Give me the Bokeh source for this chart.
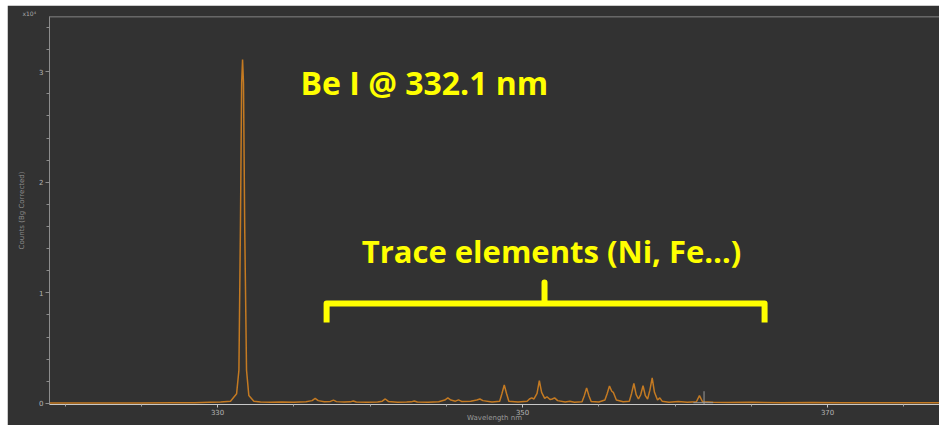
from bokeh.plotting import figure
from bokeh.models import FixedTicker, Label, Span, Range1d, Spacer, Title
from bokeh.layouts import column, row
from bokeh.embed import file_html
from bokeh.resources import INLINE

# ---- data (wavelength in nm, counts in units of 1e4, background corrected) ----
wavelength_nm = [319.0, 322.0, 325.0, 327.0, 328.5, 329.5, 330.2, 330.85, 331.25, 331.40,
                 331.50, 331.58, 331.64, 331.70, 331.78, 331.90, 332.05, 332.38, 332.82, 333.5,
                 334.2, 335.0, 335.8, 336.2, 336.4, 336.6, 337.0, 337.4, 337.6, 337.8,
                 338.3, 338.7, 338.9, 339.1, 339.8, 340.5, 340.8, 341.0, 341.2, 341.8,
                 342.4, 342.7, 342.9, 343.1, 343.8, 344.5, 344.9, 345.1, 345.3, 345.6,
                 345.8, 346.0, 346.6, 347.0, 347.2, 347.4, 348.0, 348.5, 348.65, 348.8,
                 348.95, 349.1, 349.7, 350.3, 350.45, 350.6, 350.75, 350.95, 351.1, 351.25,
                 351.45, 351.6, 351.8, 351.95, 352.1, 352.3, 352.8, 353.1, 353.4, 353.9,
                 354.05, 354.2, 354.35, 354.5, 355.0, 355.4, 355.55, 355.7, 355.85, 355.95,
                 356.15, 356.6, 357.0, 357.15, 357.3, 357.45, 357.6, 357.75, 357.9, 358.05,
                 358.2, 358.35, 358.5, 358.65, 358.85, 359.0, 359.15, 359.6, 360.2, 360.8,
                 361.4, 361.6, 361.8, 362.5, 363.5, 365.0, 367.0, 369.0, 371.0, 373.0,
                 375.0, 377.4]
counts_e4 = [0.003, 0.003, 0.004, 0.005, 0.006, 0.010, 0.012, 0.020, 0.088, 0.30,
             1.6, 2.9, 3.11, 2.9, 1.6, 0.30, 0.072, 0.020, 0.012, 0.010,
             0.012, 0.010, 0.015, 0.025, 0.045, 0.025, 0.015, 0.018, 0.030, 0.016,
             0.012, 0.014, 0.022, 0.012, 0.010, 0.012, 0.020, 0.040, 0.018, 0.010,
             0.012, 0.014, 0.022, 0.012, 0.010, 0.015, 0.030, 0.050, 0.030, 0.020,
             0.032, 0.018, 0.020, 0.030, 0.040, 0.025, 0.012, 0.020, 0.090, 0.166,
             0.090, 0.020, 0.012, 0.020, 0.040, 0.050, 0.040, 0.090, 0.205, 0.100,
             0.045, 0.060, 0.035, 0.040, 0.050, 0.025, 0.012, 0.020, 0.010, 0.015,
             0.070, 0.140, 0.070, 0.018, 0.012, 0.030, 0.090, 0.157, 0.110, 0.100,
             0.030, 0.015, 0.020, 0.090, 0.180, 0.080, 0.040, 0.080, 0.160, 0.070,
             0.040, 0.120, 0.230, 0.100, 0.030, 0.050, 0.020, 0.010, 0.018, 0.010,
             0.015, 0.070, 0.015, 0.010, 0.008, 0.010, 0.006, 0.008, 0.005, 0.006,
             0.005, 0.005]

x_major_ticks = [330, 350, 370]
x_minor_ticks = [320, 325, 335, 340, 345, 355, 360, 365, 375]
y_major_ticks = [0, 1, 2, 3]
y_minor_ticks = [0.2, 0.4, 0.6, 0.8, 1.2, 1.4, 1.6, 1.8, 2.2, 2.4, 2.6, 2.8, 3.2, 3.4]

x_title = "Wavelength nm"
y_title = "Counts (Bg Corrected)"
y_scale_note = "x10\u2074"

# annotation anchors (data units)
be_label = "Be I @ 332.1 nm"
trace_label = "Trace elements (Ni, Fe\u2026)"
trace_start, trace_mid, trace_end = 337.15, 351.44, 365.87
brace_level, brace_tip, brace_foot = 0.904, 1.093, 0.732
cursor_x = 361.9

BG = "#323232"
YELLOW = "#FFFF00"

p = figure(width=932, height=420, output_backend="svg", toolbar_location=None,
           x_range=Range1d(318.98, 377.34), y_range=Range1d(-0.01, 3.5),
           background_fill_color=BG, border_fill_color=BG,
           min_border_left=42, min_border_right=0, min_border_top=11, min_border_bottom=21)
p.outline_line_color = None
p.grid.visible = False

# scale note shown at the top-left, left of the frame
note = Title(text=y_scale_note, align="left", offset=-27, standoff=0,
             text_font="DejaVu Sans", text_font_size="6px", text_font_style="normal",
             text_color="#a8a8a8")
p.add_layout(note, "above")

# axes
xa = p.xaxis[0]
xa.ticker = FixedTicker(ticks=x_major_ticks, minor_ticks=x_minor_ticks)
xa.axis_line_color = "#c8c8c8"
xa.major_tick_line_color = "#c8c8c8"
xa.minor_tick_line_color = "#a0a0a0"
xa.major_tick_in = 0
xa.major_tick_out = 3
xa.minor_tick_in = 0
xa.minor_tick_out = 2
xa.major_label_text_font = "DejaVu Sans"
xa.major_label_text_font_size = "7px"
xa.major_label_text_color = "#b4b4b4"
xa.major_label_standoff = 1
xa.axis_label = x_title
xa.axis_label_text_font = "DejaVu Sans"
xa.axis_label_text_font_size = "7px"
xa.axis_label_text_font_style = "normal"
xa.axis_label_text_color = "#9a9a9a"
xa.axis_label_standoff = -4

ya = p.yaxis[0]
ya.ticker = FixedTicker(ticks=y_major_ticks, minor_ticks=y_minor_ticks)
ya.axis_line_color = "#8c8c8c"
ya.major_tick_line_color = "#8c8c8c"
ya.minor_tick_line_color = "#8c8c8c"
ya.major_tick_in = 0
ya.major_tick_out = 4
ya.minor_tick_in = 0
ya.minor_tick_out = 3
ya.major_label_text_font = "DejaVu Sans"
ya.major_label_text_font_size = "7px"
ya.major_label_text_color = "#b4b4b4"
ya.major_label_standoff = 2
ya.axis_label = y_title
ya.axis_label_text_font = "DejaVu Sans"
ya.axis_label_text_font_size = "7px"
ya.axis_label_text_font_style = "normal"
ya.axis_label_text_color = "#8c8c8c"
ya.axis_label_standoff = 10

# top frame line
p.add_layout(Span(location=3.5, dimension="width", line_color="#6a6a6a", line_width=2))

# spectrum
p.line(wavelength_nm, counts_e4, line_color="#c47a22", line_width=1.5)

# small cursor marker
p.segment(x0=[cursor_x, cursor_x - 0.7], y0=[-0.01, 0.006],
          x1=[cursor_x, cursor_x + 0.6], y1=[0.11, 0.006],
          line_color="#9a9a9a", line_width=1)

# annotations
p.add_layout(Label(x=335.44, y=2.90, text=be_label, text_font="Open Sans",
                   text_font_style="bold", text_font_size="32px", text_color=YELLOW,
                   text_align="left", text_baseline="alphabetic"))
p.add_layout(Label(x=351.90, y=1.38, text=trace_label, text_font="Open Sans",
                   text_font_style="bold", text_font_size="31px", text_color=YELLOW,
                   text_align="center", text_baseline="alphabetic"))

brace_x = [trace_start, trace_start, trace_mid, trace_mid, trace_mid, trace_end, trace_end]
brace_y = [brace_foot, brace_level, brace_level, brace_tip, brace_level, brace_level, brace_foot]
p.line(brace_x, brace_y, line_color=YELLOW, line_width=6, line_join="round", line_cap="butt")

page = column(Spacer(width=939, height=5),
              row(Spacer(width=7, height=420), p))
open("out.html", "w").write(file_html(page, INLINE))
